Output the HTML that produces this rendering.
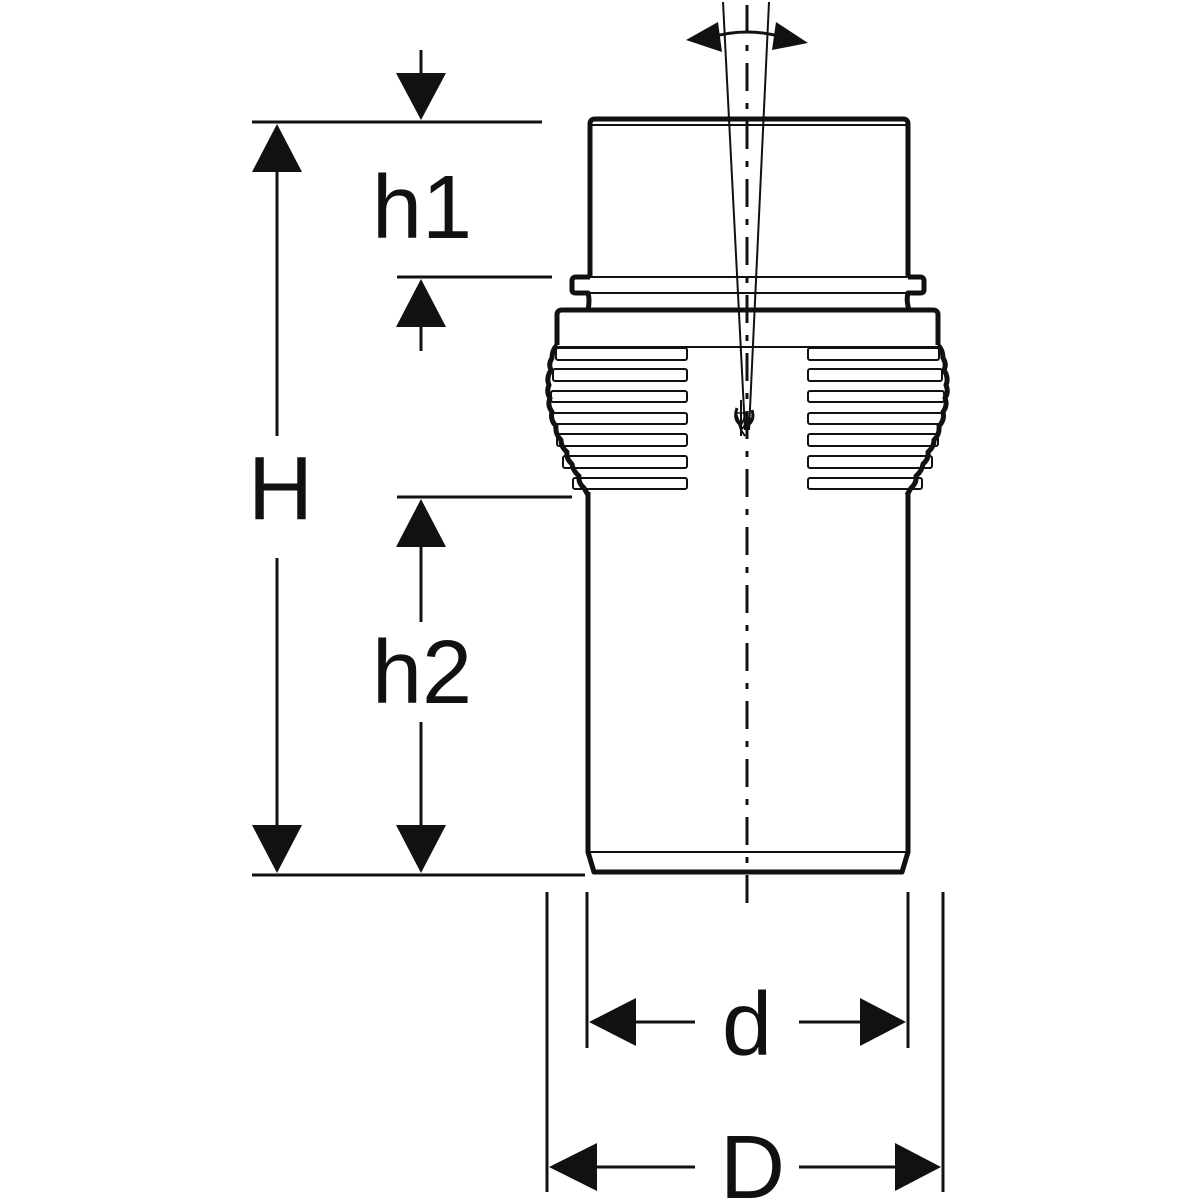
<!DOCTYPE html>
<html><head><meta charset="utf-8"><style>html,body{margin:0;padding:0;background:#fff}svg{display:block}</style></head>
<body>
<svg width="1200" height="1200" viewBox="0 0 1200 1200" xmlns="http://www.w3.org/2000/svg" font-family="Liberation Sans, sans-serif">
<g fill="none" stroke="#111" stroke-linejoin="round">
<!-- top socket -->
<path d="M590,277 L590,124 Q590,119 595,119 L903,119 Q908,119 908,124 L908,277" stroke-width="5"/>
<line x1="592" y1="125" x2="906" y2="125" stroke-width="2"/>
<!-- flange -->
<path d="M590,277 L576,277 Q572,277 572,281 L572,290 Q572,293 576,293 L588,293 Q590,300 588,310 M908,277 L920,277 Q924,277 924,281 L924,290 Q924,293 920,293 L908,293 Q906,300 909,310" stroke-width="5"/>
<line x1="590" y1="277" x2="908" y2="277" stroke-width="2"/>
<line x1="588" y1="293" x2="908" y2="293" stroke-width="2"/>
<!-- body -->
<path d="M557,345 L557,315 Q557,310 562,310 L933,310 Q938,310 938,315 L938,345" stroke-width="5"/>
<line x1="557" y1="347" x2="938" y2="347" stroke-width="2"/>
<path d="M557,345 Q552,350 552,358 Q548,364 551,370 Q546,378 549,385 Q546,392 550,398 Q547,405 552,412 Q550,420 556,426 Q555,434 561,440 Q561,447 567,452 Q566,459 572,464 Q573,471 579,476 Q578,483 584,488 L588,495" stroke-width="5"/>
<path d="M938,345 Q943,350 943,358 Q947,364 944,370 Q949,378 946,385 Q949,392 945,398 Q948,405 943,412 Q945,420 939,426 Q940,434 934,440 Q934,447 928,452 Q929,459 923,464 Q922,471 916,476 Q917,483 911,488 L907,495" stroke-width="5"/>
<!-- ribs -->
<g stroke-width="2">
<rect x="556" y="348" width="131" height="12" rx="2"/>
<rect x="553" y="369" width="134" height="12" rx="2"/>
<rect x="551" y="391" width="136" height="11" rx="2"/>
<rect x="552" y="413" width="135" height="11" rx="2"/>
<rect x="557" y="434" width="130" height="12" rx="2"/>
<rect x="563" y="456" width="124" height="12" rx="2"/>
<rect x="573" y="478" width="114" height="11" rx="2"/>
<rect x="808" y="348" width="131" height="12" rx="2"/>
<rect x="808" y="369" width="134" height="12" rx="2"/>
<rect x="808" y="391" width="136" height="11" rx="2"/>
<rect x="808" y="413" width="135" height="11" rx="2"/>
<rect x="808" y="434" width="130" height="12" rx="2"/>
<rect x="808" y="456" width="124" height="12" rx="2"/>
<rect x="808" y="478" width="114" height="11" rx="2"/>
</g>
<!-- lower pipe -->
<path d="M588,492 L588,852 L594,872 L902,872 L908,852 L908,492" stroke-width="5"/>
<line x1="590" y1="852" x2="906" y2="852" stroke-width="2"/>
<!-- center line -->
<line x1="747" y1="5" x2="747" y2="905" stroke-width="3" stroke-dasharray="28,12,6,12"/>
<!-- angle lines -->
<line x1="723" y1="2" x2="745" y2="430" stroke-width="2"/>
<line x1="769" y1="2" x2="749" y2="430" stroke-width="2"/>
<path d="M737,418 L741,430 L751,418 M745,436 L741,430" stroke-width="2"/>
<path d="M737,408 Q733,420 741,425 M752,410 Q755,420 748,425" stroke-width="3"/>
<path d="M736,413 L746,413 L741,426 Z" stroke-width="1.5"/>
<line x1="741" y1="400" x2="741" y2="436" stroke-width="2"/>
<path d="M712,37 Q747,27 782,37" stroke-width="3"/>
<!-- dimension lines -->
<g stroke-width="3">
<line x1="252" y1="122" x2="542" y2="122"/>
<line x1="252" y1="875" x2="585" y2="875"/>
<line x1="397" y1="277" x2="552" y2="277"/>
<line x1="397" y1="497" x2="572" y2="497"/>
<line x1="277" y1="170" x2="277" y2="436"/>
<line x1="277" y1="558" x2="277" y2="825"/>
<line x1="421" y1="50" x2="421" y2="75"/>
<line x1="421" y1="325" x2="421" y2="351"/>
<line x1="421" y1="545" x2="421" y2="622"/>
<line x1="421" y1="722" x2="421" y2="825"/>
<line x1="587" y1="892" x2="587" y2="1048"/>
<line x1="908" y1="892" x2="908" y2="1048"/>
<line x1="547" y1="892" x2="547" y2="1192"/>
<line x1="943" y1="892" x2="943" y2="1192"/>
<line x1="636" y1="1022" x2="695" y2="1022"/>
<line x1="799" y1="1022" x2="860" y2="1022"/>
<line x1="597" y1="1167" x2="695" y2="1167"/>
<line x1="799" y1="1167" x2="895" y2="1167"/>
</g>
</g>
<g fill="#111">
<polygon points="277,124 252,172 302,172"/>
<polygon points="277,873 252,825 302,825"/>
<polygon points="421,120 396,73 446,73"/>
<polygon points="421,279 396,327 446,327"/>
<polygon points="421,499 396,547 446,547"/>
<polygon points="421,873 396,825 446,825"/>
<polygon points="589,1022 636,998 636,1046"/>
<polygon points="906,1022 860,998 860,1046"/>
<polygon points="549,1167 597,1143 597,1191"/>
<polygon points="941,1167 895,1143 895,1191"/>
<polygon points="686,40 718,22 722,52"/>
<polygon points="808,43 776,22 772,50"/>
</g>
<g fill="#111" font-size="90">
<text x="372" y="238">h1</text>
<text x="372" y="703">h2</text>
<text x="248" y="519">H</text>
<text x="722" y="1055">d</text>
<text x="720" y="1198">D</text>
</g>
</svg>
</body></html>
